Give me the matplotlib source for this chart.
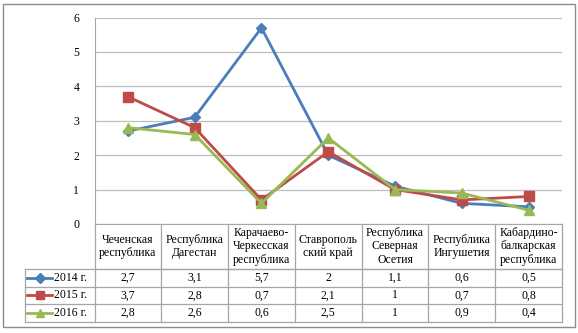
import numpy as np
import matplotlib.pyplot as plt
from matplotlib.lines import Line2D
from matplotlib.patches import Rectangle

plt.rcParams['font.family'] = ['Liberation Serif', 'DejaVu Serif']

categories = ["Чеченская\nреспублика", "Республика\nДагестан", "Карачаево-\nЧеркесская\nреспублика",
              "Ставрополь\nский край", "Республика\nСеверная\nОсетия", "Республика\nИнгушетия",
              "Кабардино-\nбалкарская\nреспублика"]
series_names = ["2014 г.", "2015 г.", "2016 г."]
v2014 = [2.7, 3.1, 5.7, 2.0, 1.1, 0.6, 0.5]
v2015 = [3.7, 2.8, 0.7, 2.1, 1.0, 0.7, 0.8]
v2016 = [2.8, 2.6, 0.6, 2.5, 1.0, 0.9, 0.4]
values = [v2014, v2015, v2016]
colors = ["#4A7EBB", "#BE4B48", "#98B954"]
markers = ["D", "s", "^"]
msizes = [5, 7, 7]

W, H = 578, 333
fig = plt.figure(figsize=(W / 100, H / 100), dpi=100)


def fx(px):
    return px / W


def fy(py):
    return 1 - py / H


ax_l, ax_r, ax_t, ax_b = 94.5, 562, 17.5, 224
ax = fig.add_axes([fx(ax_l), fy(ax_b), fx(ax_r - ax_l), (ax_b - ax_t) / H])

x = np.arange(len(categories))
for name, vals, c, m, ms in zip(series_names, values, colors, markers, msizes):
    ax.plot(x, vals, color=c, lw=2, marker=m, ms=ms, label=name, zorder=3)

ax.set_xlim(-0.5, len(categories) - 0.5)
ax.set_ylim(0, 6)
ax.set_yticks(range(0, 7))
ax.set_yticklabels([str(v) for v in range(0, 7)], fontsize=8.5)
ax.yaxis.grid(True, color="#BEBEBE", lw=0.9)
ax.set_axisbelow(True)
ax.set_xticks([])
for s in ["top", "right"]:
    ax.spines[s].set_visible(False)
ax.spines["left"].set_color("#A6A6A6")
ax.spines["bottom"].set_color("#A6A6A6")
ax.tick_params(axis="y", length=0, pad=11)

# data table below the plot
line_kw = dict(color="#A6A6A6", lw=0.9)
col_w = (ax_r - ax_l) / len(categories)
head_b = 269
row_h = 17.5
rows_y = [head_b + i * row_h for i in range(len(series_names) + 1)]
leg_l = 25

for i in range(len(categories) + 1):
    xp = ax_l + i * col_w
    fig.add_artist(Line2D([fx(xp), fx(xp)], [fy(ax_b), fy(rows_y[-1])], **line_kw))
fig.add_artist(Line2D([fx(leg_l), fx(leg_l)], [fy(head_b), fy(rows_y[-1])], **line_kw))
fig.add_artist(Line2D([fx(ax_l), fx(ax_r)], [fy(head_b), fy(head_b)], **line_kw))
for yp in rows_y:
    fig.add_artist(Line2D([fx(leg_l), fx(ax_r)], [fy(yp), fy(yp)], **line_kw))

for i, cat in enumerate(categories):
    cx = ax_l + (i + 0.5) * col_w
    fig.text(fx(cx), fy((ax_b + head_b) / 2), cat, ha="center", va="center",
             fontsize=8.5, linespacing=1.15)

for r, (name, vals, c, m) in enumerate(zip(series_names, values, colors, markers)):
    cy = (rows_y[r] + rows_y[r + 1]) / 2
    fig.add_artist(Line2D([fx(27), fx(52)], [fy(cy), fy(cy)], color=c, lw=2))
    fig.add_artist(Line2D([fx(39.5)], [fy(cy)], color=c, marker=m, ms=5 if m == "D" else 6, lw=0))
    fig.text(fx(54), fy(cy), name, ha="left", va="center", fontsize=8.5)
    for i, v in enumerate(vals):
        cx = ax_l + (i + 0.5) * col_w
        lab = ("%g" % v).replace(".", ",")
        fig.text(fx(cx), fy(cy), lab, ha="center", va="center", fontsize=8.5)

# chart frame
fig.add_artist(Rectangle((fx(3), fy(327)), fx(572), (327 - 4) / H, fill=False,
                         edgecolor="#8C8C8C", lw=1))

fig.savefig("out.png", dpi=100)
